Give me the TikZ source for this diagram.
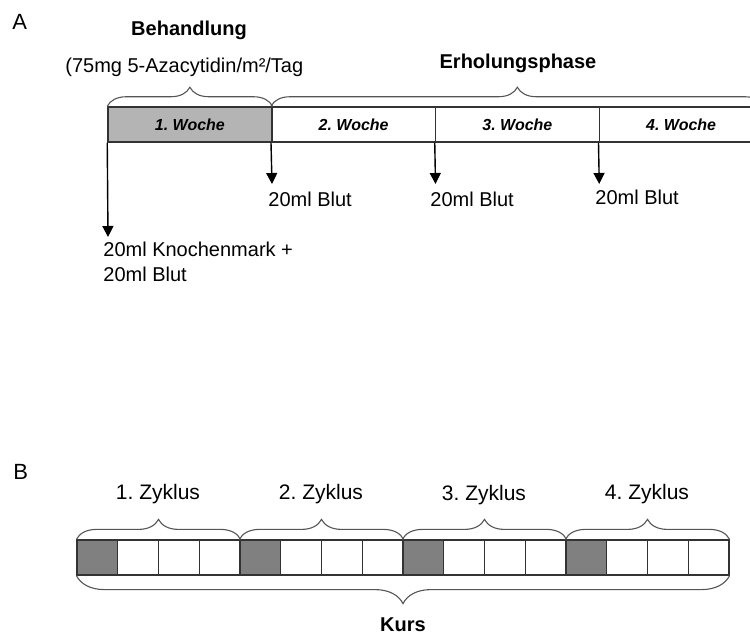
\documentclass[tikz,border=0pt]{standalone}
\usepackage{fontspec}
\setmainfont{Liberation Sans}
\usetikzlibrary{decorations.pathreplacing,arrows.meta}
\definecolor{lightcell}{HTML}{B4B4B4}
\definecolor{darkcell}{HTML}{808080}
\definecolor{linecol}{HTML}{333333}
\definecolor{bracecol}{HTML}{555555}
\begin{document}
\frenchspacing
\begin{tikzpicture}[x=0.5pt,y=-0.5pt,
  txt/.style={font=\fontsize{10}{12}\selectfont, inner sep=0pt},
  lettertxt/.style={font=\fontsize{11}{13}\selectfont, inner sep=0pt},
  boldtxt/.style={font=\fontsize{10}{12}\selectfont\bfseries, inner sep=0pt},
  zyk/.style={font=\fontsize{10.5}{12}\selectfont, inner sep=0pt},
  wk/.style={font=\fontsize{8}{10}\selectfont\bfseries\itshape},
  weekcell/.style={draw=linecol, line width=0.75pt, minimum width=81.875pt, minimum height=17.5pt, inner sep=0pt},
  cyccell/.style={draw=linecol, line width=0.6pt, minimum width=20.375pt, minimum height=17.5pt, inner sep=0pt},
  brc/.style={draw=bracecol, line width=0.55pt, decorate, decoration={brace, amplitude=#1}},
  arr/.style={draw=black, line width=0.7pt, -{Triangle[width=5.5pt,length=5.5pt]}},
]
\clip (0,0) rectangle (750,635);

% ---------- Part A ----------
\node[lettertxt, anchor=base west] (labA) at (12,30) {A};
\node[boldtxt, anchor=base] (beh) at (189,36) {Behandlung};
\node[txt, anchor=base west] (dose) at (65,73) {(75mg 5-Azacytidin/m²/Tag};
\node[boldtxt, anchor=base] (erh) at (518,69) {Erholungsphase};

\node[weekcell, fill=lightcell] (w1) at (189.875,124.5) {};
\node[weekcell] (w2) at (353.625,124.5) {};
\node[weekcell] (w3) at (517.375,124.5) {};
\node[weekcell] (w4) at (681.125,124.5) {};
\node[wk] at (w1) {1. Woche};
\node[wk] at (w2) {2. Woche};
\node[wk] at (w3) {3. Woche};
\node[wk] at (w4) {4. Woche};

\draw[brc=9.5pt] (w1.north west) -- (w1.north east);
\draw[brc=9.5pt] (w2.north west) -- (w4.north east);

\coordinate (a1) at (108,237);
\coordinate (a2) at (272,184);
\coordinate (a3) at (435.5,184);
\coordinate (a4) at (599.25,184);
\draw[arr] (w1.south west) -- (a1);
\draw[arr] (w2.south west) -- (a2);
\draw[arr] (w3.south west) -- (a3);
\draw[arr] (w4.south west) -- (a4);

\node[txt, anchor=base west] (k1) at (103,257) {20ml Knochenmark +};
\node[txt, anchor=base west] (k2) at (103,282) {20ml Blut};
\node[txt, anchor=base west] (b2) at (268,207) {20ml Blut};
\node[txt, anchor=base west] (b3) at (430,207) {20ml Blut};
\node[txt, anchor=base west] (b4) at (595,205) {20ml Blut};

% ---------- Part B ----------
\node[lettertxt, anchor=base west] (labB) at (13,480) {B};
\foreach \i in {1,...,16}{
  \pgfmathtruncatemacro{\m}{mod(\i-1,4)}
  \ifnum\m=0
    \node[cyccell, fill=darkcell] (z\i) at ({77+40.75*(\i-0.5)},557.5) {};
  \else
    \node[cyccell, fill=white] (z\i) at ({77+40.75*(\i-0.5)},557.5) {};
  \fi
}
\draw[brc=10pt] (z1.north west) -- (z4.north east);
\draw[brc=10pt] (z5.north west) -- (z8.north east);
\draw[brc=10pt] (z9.north west) -- (z12.north east);
\draw[brc=10pt] (z13.north west) -- (z16.north east);
\node[zyk, anchor=base] (c1) at (158,500) {1. Zyklus};
\node[zyk, anchor=base] (c2) at (321,500) {2. Zyklus};
\node[zyk, anchor=base] (c3) at (484,501) {3. Zyklus};
\node[zyk, anchor=base] (c4) at (647,500) {4. Zyklus};

\draw[brc=14pt] (z16.south east) -- (z1.south west);
\node[boldtxt, anchor=base] (kurs) at (403,632) {Kurs};
\end{tikzpicture}
\end{document}
